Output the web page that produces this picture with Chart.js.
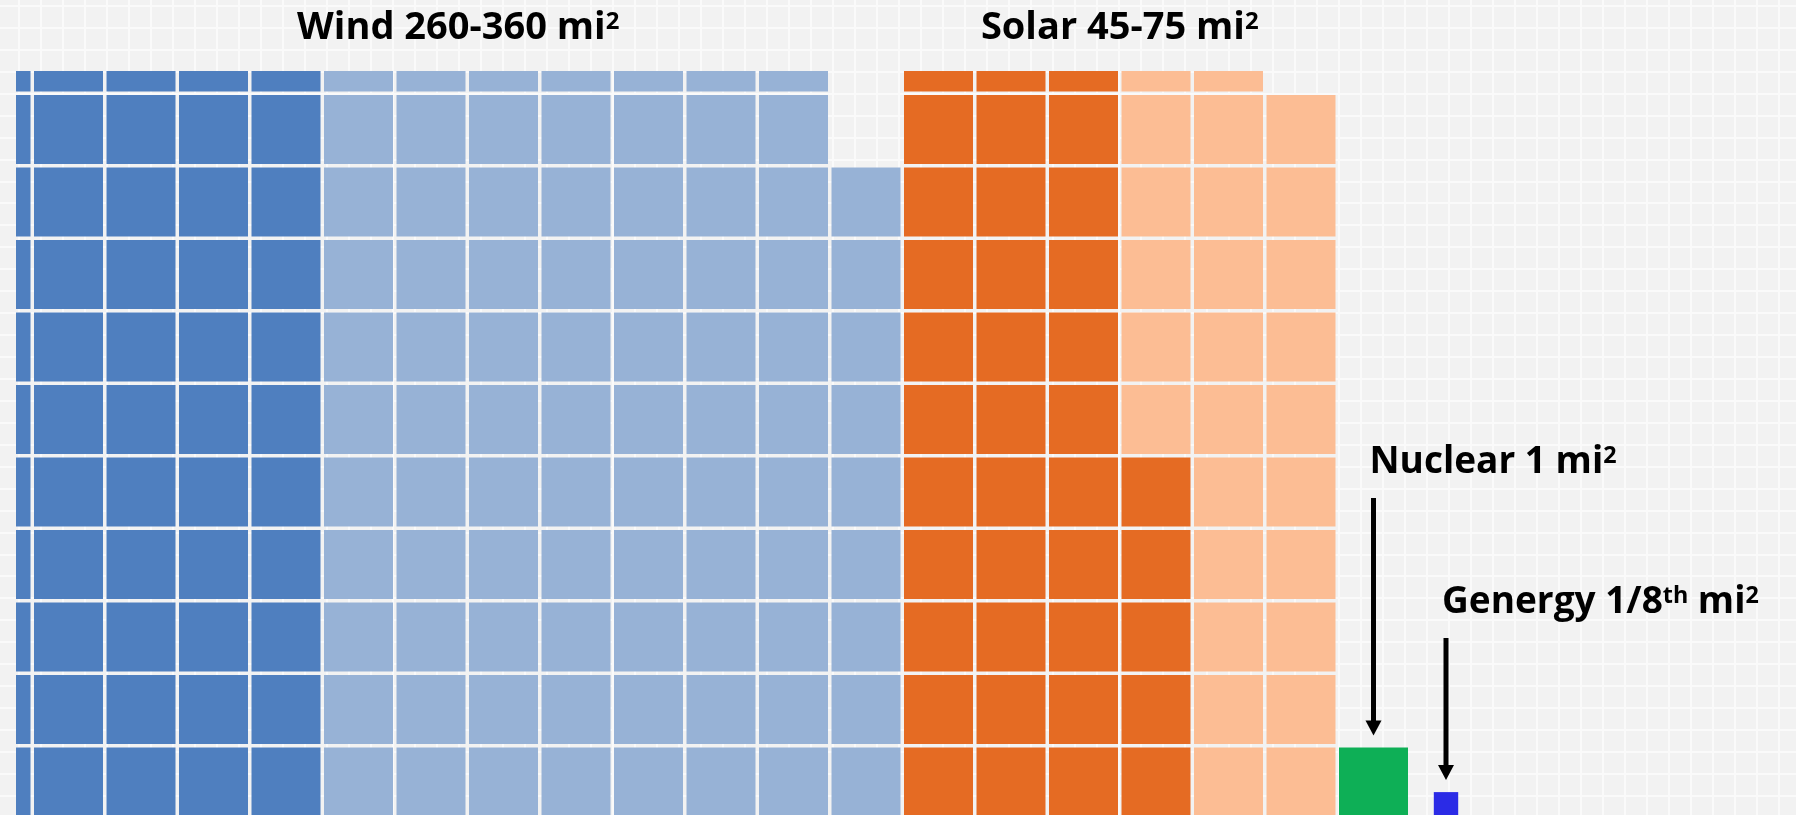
<!DOCTYPE html>
<html>
<head>
<meta charset="utf-8">
<title>Land area by energy source</title>
<script src="https://cdn.jsdelivr.net/npm/chart.js@4.4.1/dist/chart.umd.min.js"></script>
<style>
  html, body { margin: 0; padding: 0; background: #f2f2f2; overflow: hidden; }
  #wrap { width: 1796px; height: 815px; }
  canvas { display: block; }
</style>
</head>
<body>
<div id="wrap"><canvas id="landChart" width="1796" height="815"></canvas></div>
<script>
// Land footprint per energy source; one large cell stands for 1 mi².
const sources      = ['Wind', 'Solar', 'Nuclear', 'Genergy'];
const baseCells    = [55, 38, 1, 0.125];   // darker block: low end of the range
const extraCells   = [86, 27, 0, 0];       // lighter block: up to the high end
const sourceLabels = ['Wind 260-360 mi^2', 'Solar 45-75 mi^2', 'Nuclear 1 mi^2', 'Genergy 1/8^th mi^2'];
const rowsPerColumn = 11;

// Styling
const baseColors  = ['#4f7fbf', '#e56b23', '#0eaf56', '#2b2be6'];
const extraColors = ['#97b2d6', '#fcbd94', null, null];
const FONT = '"Open Sans", "Noto Sans", sans-serif';

// Geometry of the canvas and of the cell lattice (pixels)
const W = 1796, H = 815;
const PITCH = 72.5, GAP = 3.5;
const COL0_PX = -4;          // centre of column 0
const ROW0_PX = 782;         // centre of the bottom row
const CLIP_LEFT = 16, CLIP_TOP = 71;
const FINE_X = 22, FINE_X0 = 19, FINE_Y = 21.94, FINE_Y0 = 6;
const GAP_FRAC = GAP / PITCH;

// Fill the lattice column by column, bottom to top; every source opens a new column.
function layoutCells() {
  const sets = [];
  let col = 0, level = 0;
  sources.forEach((name, i) => {
    if (level !== 0) { col++; level = 0; }
    const parts = [[baseCells[i], baseColors[i]], [extraCells[i], extraColors[i]]];
    parts.forEach(([count, color]) => {
      if (!count) return;
      const pts = [];
      if (count < 1) {
        // a fraction of a cell: a smaller square whose area matches the value
        const side = Math.sqrt(count) * (1 - GAP_FRAC);
        pts.push({ x: col, y: level - 0.5 + GAP_FRAC / 2 + side / 2, side });
        level++;
      } else {
        for (let k = 0; k < count; k++) {
          pts.push({ x: col, y: level, side: 1 - GAP_FRAC });
          level++;
          if (level === rowsPerColumn) { level = 0; col++; }
        }
      }
      // row-major order, so the scatter controller keeps every column on screen
      pts.sort((a, b) => (a.y - b.y) || (a.x - b.x));
      sets.push({ source: i, name, color, data: pts, lattice: i < 2 });
    });
  });
  return sets;
}

const cellSets = layoutCells();

function unitPx(scale) {
  return Math.abs(scale.getPixelForValue(1) - scale.getPixelForValue(0));
}

function cellRadius(ctx) {
  const sc = ctx.chart.scales && ctx.chart.scales.x;
  if (!sc || !ctx.raw) return 0;
  return ctx.raw.side * unitPx(sc) / (2 * Math.SQRT1_2);
}

function integerTicks(scale) {
  const lo = Math.ceil(Math.min(scale.min, scale.max));
  const hi = Math.floor(Math.max(scale.min, scale.max));
  const t = [];
  for (let v = lo; v <= hi; v++) t.push({ value: v });
  scale.ticks = t;
}

// Split "mi^2" style markup into normal and superscript runs.
function parseRuns(text) {
  const runs = [];
  const re = /\^(\w+)/g;
  let last = 0, m;
  while ((m = re.exec(text))) {
    if (m.index > last) runs.push({ t: text.slice(last, m.index), sup: false });
    runs.push({ t: m[1], sup: true });
    last = re.lastIndex;
  }
  if (last < text.length) runs.push({ t: text.slice(last), sup: false });
  return runs;
}

function drawRichText(ctx, text, x, baseline, size, align) {
  const runs = parseRuns(text);
  const supSize = size * 0.63;
  const widths = runs.map(r => {
    ctx.font = `bold ${r.sup ? supSize : size}px ${FONT}`;
    return ctx.measureText(r.t).width;
  });
  const total = widths.reduce((a, b) => a + b, 0);
  let cx = align === 'center' ? x - total / 2 : x;
  ctx.textAlign = 'left';
  ctx.textBaseline = 'alphabetic';
  runs.forEach((r, i) => {
    ctx.font = `bold ${r.sup ? supSize : size}px ${FONT}`;
    ctx.fillText(r.t, cx, r.sup ? baseline - size * 0.27 : baseline);
    cx += widths[i];
  });
}

// Label placement per source
const callouts = [
  { source: 0, mode: 'above', baseline: 39, size: 38 },
  { source: 1, mode: 'above', baseline: 39, size: 38 },
  { source: 2, mode: 'arrow', baseline: 473, size: 37 },
  { source: 3, mode: 'arrow', baseline: 613, size: 37 },
];

const calloutPlugin = {
  id: 'callouts',
  afterDatasetsDraw(chart) {
    const { ctx } = chart;
    const xs = chart.scales.x, ys = chart.scales.y;
    const px = unitPx(xs);
    ctx.save();
    ctx.fillStyle = '#000';
    callouts.forEach(c => {
      const pts = cellSets.filter(s => s.source === c.source).flatMap(s => s.data);
      if (c.mode === 'above') {
        let left = Infinity, right = -Infinity;
        pts.forEach(p => {
          const cxp = xs.getPixelForValue(p.x);
          left = Math.min(left, cxp - p.side * px / 2);
          right = Math.max(right, cxp + p.side * px / 2);
        });
        left = Math.max(left, CLIP_LEFT);
        drawRichText(ctx, sourceLabels[c.source], (left + right) / 2, c.baseline, c.size, 'center');
      } else {
        const p = pts[0];
        const ax = xs.getPixelForValue(p.x);
        const top = ys.getPixelForValue(p.y) - p.side * px / 2;
        const tip = top - 12;
        const start = c.baseline + 25;
        const headLen = 15, headHalf = 8, shaft = 5;
        ctx.fillRect(ax - shaft / 2, start, shaft, tip - headLen - start + 1);
        ctx.beginPath();
        ctx.moveTo(ax - headHalf, tip - headLen);
        ctx.lineTo(ax + headHalf, tip - headLen);
        ctx.lineTo(ax, tip);
        ctx.closePath();
        ctx.fill();
        drawRichText(ctx, sourceLabels[c.source], ax - 4, c.baseline, c.size, 'left');
      }
    });
    ctx.restore();
  }
};

const xMin = -COL0_PX / PITCH;
const yMin = -(H - ROW0_PX) / PITCH;
const gxMin = -FINE_X0 / FINE_X;
const gyMin = -FINE_Y0 / FINE_Y;

const hiddenAxis = {
  type: 'linear', display: false, bounds: 'data',
  grid: { display: false, drawTicks: false },
  ticks: { display: false },
  border: { display: false }
};
const fineGrid = {
  type: 'linear', display: true, bounds: 'data',
  grid: { display: true, color: '#fafafa', lineWidth: 2, drawTicks: false },
  ticks: { display: false, includeBounds: false },
  border: { display: false },
  afterBuildTicks: integerTicks
};

new Chart(document.getElementById('landChart'), {
  type: 'scatter',
  data: {
    datasets: cellSets.map(s => ({
      label: s.name,
      data: s.data,
      backgroundColor: s.color,
      pointBackgroundColor: s.color,
      pointStyle: 'rect',
      pointBorderWidth: 0,
      borderWidth: 0,
      pointRadius: cellRadius,
      pointHoverRadius: cellRadius,
      clip: s.lattice ? { left: -CLIP_LEFT, top: -CLIP_TOP, right: 0, bottom: 0 } : false
    }))
  },
  options: {
    responsive: false,
    devicePixelRatio: 1,
    animation: false,
    events: [],
    layout: { padding: 0, autoPadding: false },
    plugins: { legend: { display: false }, tooltip: { enabled: false } },
    scales: {
      x: { ...hiddenAxis, min: xMin, max: xMin + W / PITCH },
      y: { ...hiddenAxis, min: yMin, max: yMin + H / PITCH },
      gx: { ...fineGrid, axis: 'x', position: 'bottom', min: gxMin, max: gxMin + W / FINE_X },
      gy: { ...fineGrid, axis: 'y', position: 'left', reverse: true, min: gyMin, max: gyMin + H / FINE_Y }
    }
  },
  plugins: [calloutPlugin]
});
</script>
</body>
</html>
